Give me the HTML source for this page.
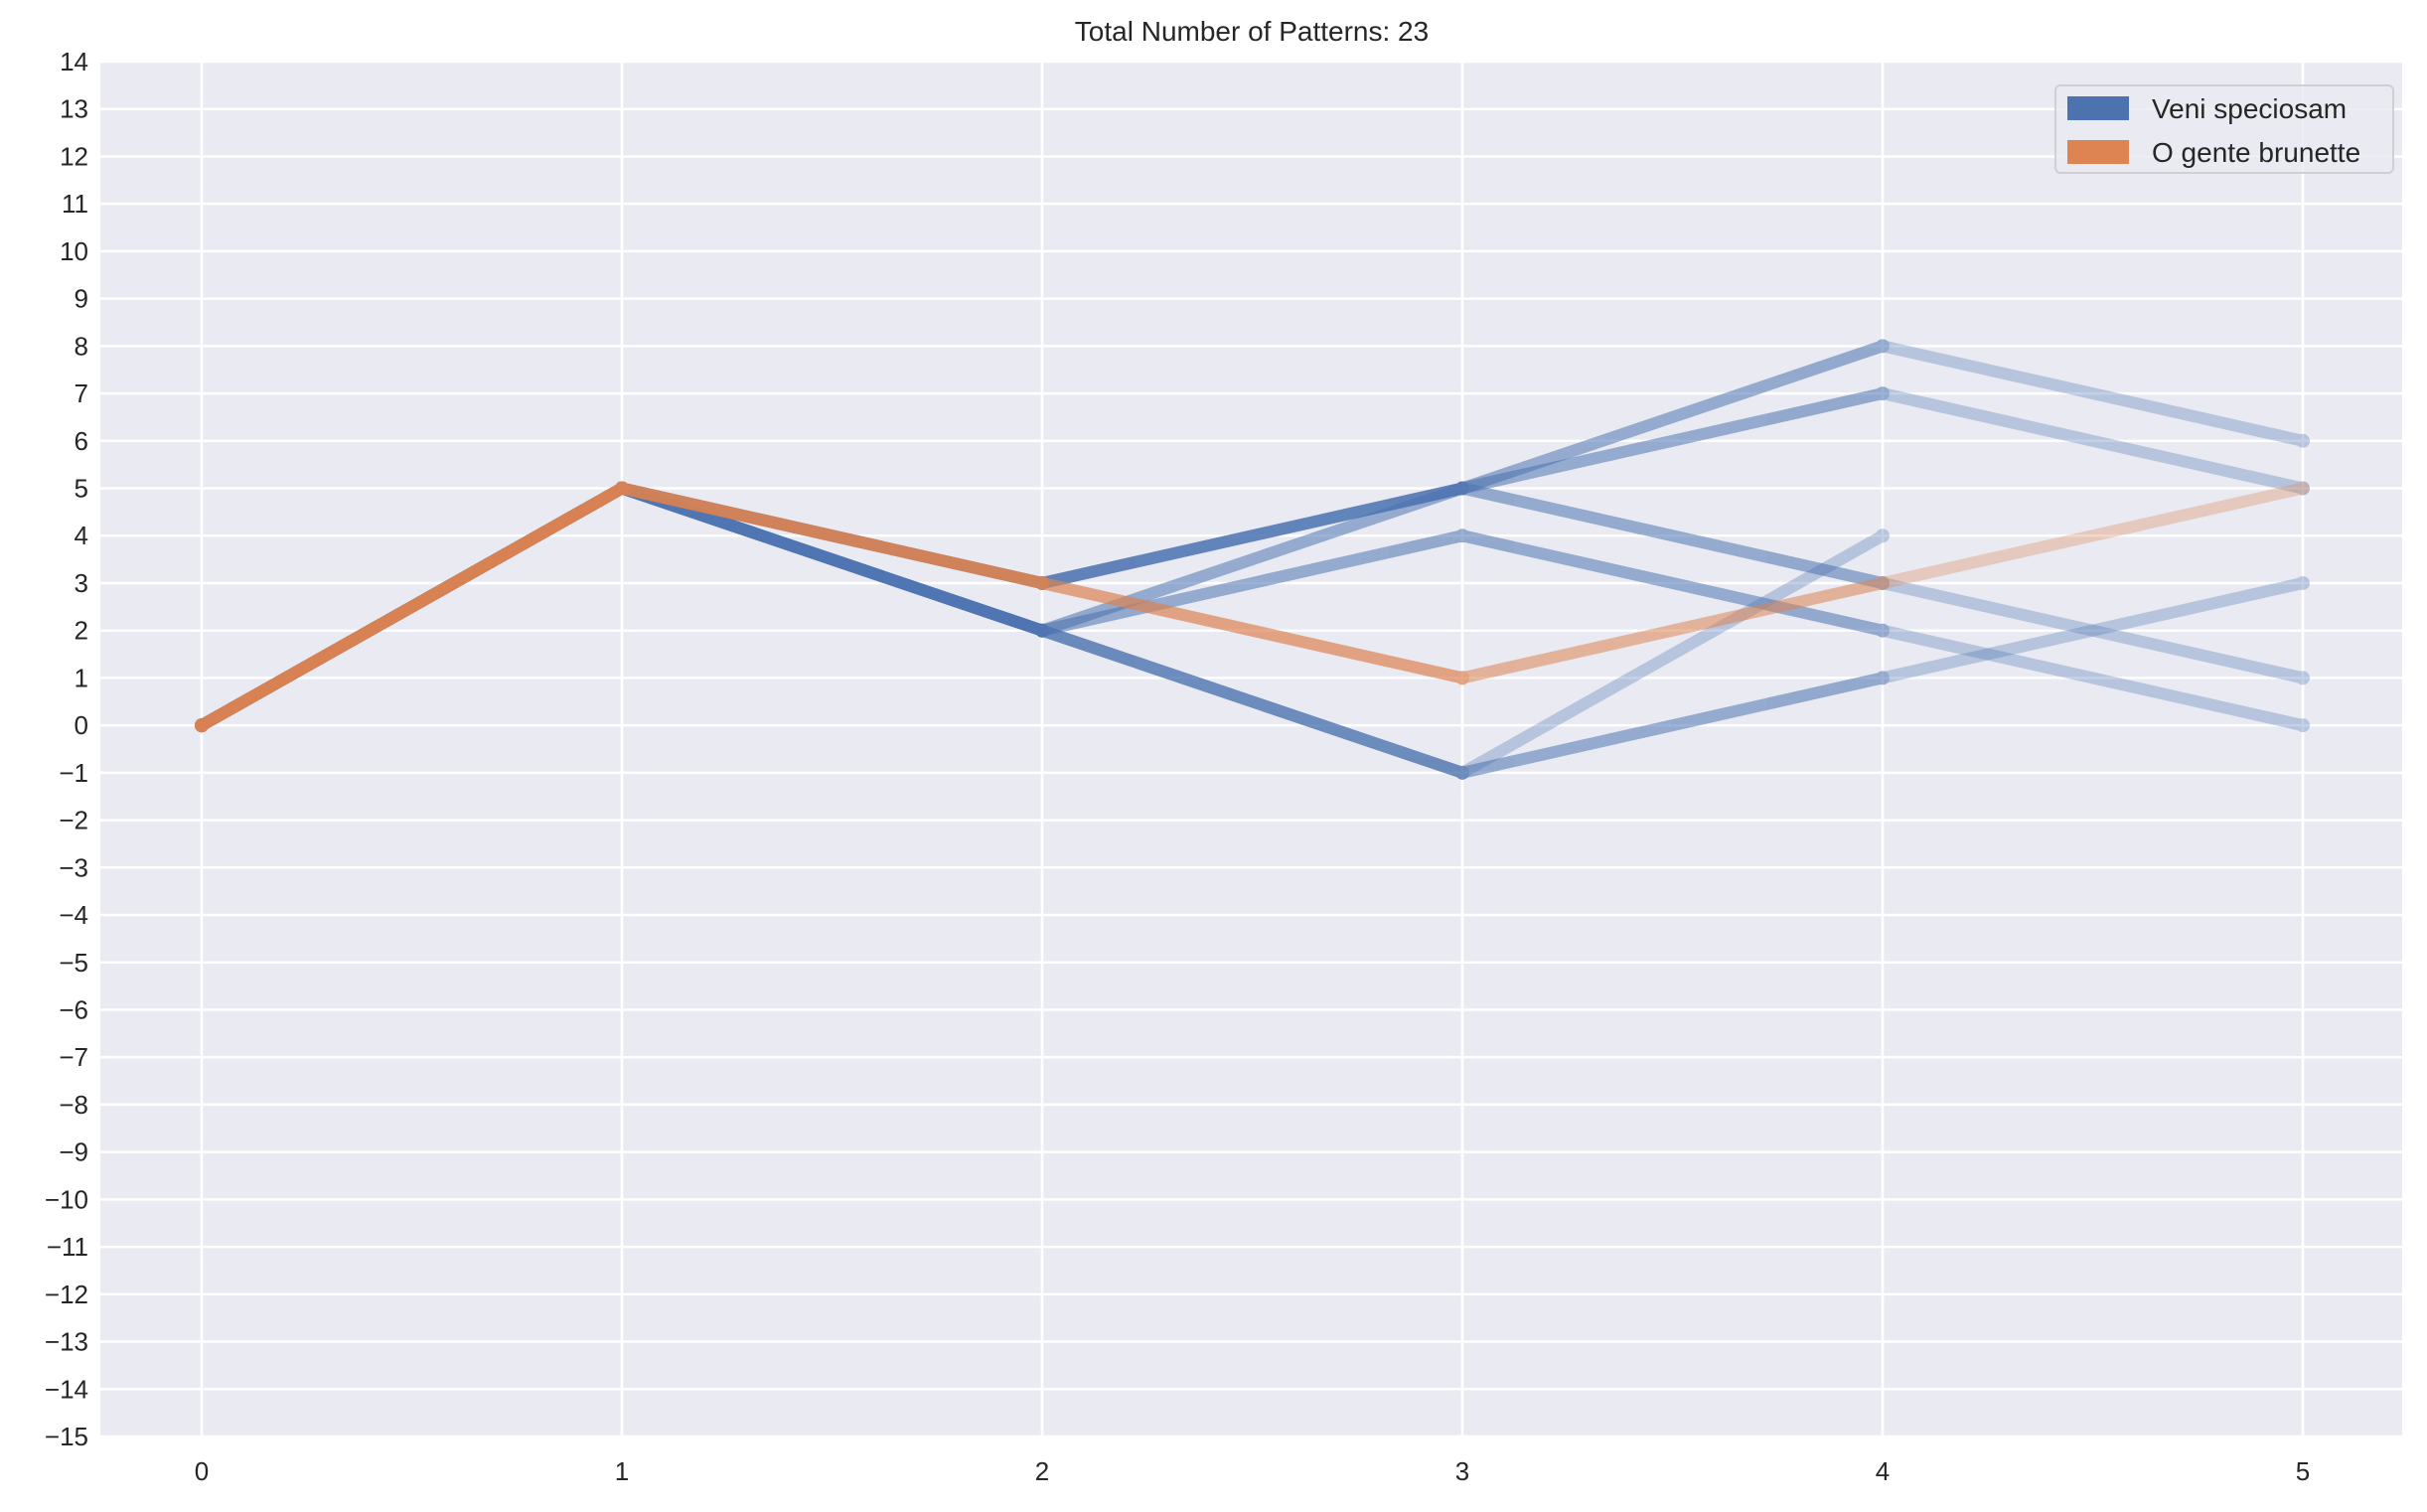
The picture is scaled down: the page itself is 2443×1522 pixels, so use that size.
<!DOCTYPE html>
<html><head><meta charset="utf-8"><style>
body{margin:0;background:#fff;}
svg{display:block;font-family:"Liberation Sans",sans-serif;}
</style></head><body>
<svg id="chart" width="2443" height="1522">
<rect x="101" y="62" width="2317" height="1384" fill="#eaeaf2"/>
<g id="grid"></g><g id="ticks"></g><g id="series"></g>
<text x="1260" y="41" text-anchor="middle" font-size="28" fill="#262626">Total Number of Patterns: 23</text>
<g>
<rect x="2069" y="86" width="340" height="88" rx="5" fill="#eaeaf2" fill-opacity="0.8" stroke="#cfcfd4" stroke-width="2"/>
<rect x="2081" y="97" width="62" height="24" fill="#4c72b0"/>
<text x="2166" y="119" font-size="28" fill="#262626">Veni speciosam</text>
<rect x="2081" y="141" width="62" height="24" fill="#dd8452"/>
<text x="2166" y="163" font-size="28" fill="#262626">O gente brunette</text>
</g>
</svg>
<script>
const xTicks=[0,1,2,3,4,5];
const yTicks=[14,13,12,11,10,9,8,7,6,5,4,3,2,1,0,-1,-2,-3,-4,-5,-6,-7,-8,-9,-10,-11,-12,-13,-14,-15];
const veniPatterns=[[0,5,3,5,8,6],[0,5,3,5,8],[0,5,3,5,3,1],[0,5,3,5,3],[0,5,3,5],[0,5,2,5,7,5],[0,5,2,5,7],[0,5,2,4,2,0],[0,5,2,4,2],[0,5,2,-1,1,3],[0,5,2,-1,1],[0,5,2,-1,4],[0,5,2,-1],[0,5,2]];
const gentePatterns=[[0,5,3,1,3,5],[0,5,3,1,3],[0,5,3,1],[0,5,3],[0,5,3],[0,5,3],[0,5],[0,5],[0,5]];
const X0=203,DX=423,YTOP=62,YB=1446,YMAX=14,YMIN=-15;
function xs(i){return X0+i*DX;}
function ys(v){return YTOP+(YMAX-v)*(YB-YTOP)/(YMAX-YMIN);}
const NS="http://www.w3.org/2000/svg";
const grid=document.getElementById('grid'),ticks=document.getElementById('ticks'),ser=document.getElementById('series');
function mk(t,a,p){const e=document.createElementNS(NS,t);for(const k in a)e.setAttribute(k,a[k]);p.appendChild(e);return e;}
xTicks.forEach(v=>{
 const l=mk('line',{x1:xs(v),x2:xs(v),y1:YTOP,y2:YB,stroke:'#fff','stroke-width':2.5},grid);
 
 
 const t=mk('text',{x:xs(v),y:YB+44,'text-anchor':'middle','font-size':26,fill:'#262626'},ticks);
 t.textContent=v;
 
 
});
yTicks.forEach(v=>{
 const l=mk('line',{x1:101,x2:2418,y1:ys(v),y2:ys(v),stroke:'#fff','stroke-width':2.5},grid);
 
 
 const t=mk('text',{x:89,y:ys(v)+9,'text-anchor':'end','font-size':26,fill:'#262626'},ticks);
 t.textContent=String(v).replace('-','\u2212');
 
 
});
function draw(pats,color,name){
 pats.forEach(p=>{
  const g=mk('g',{opacity:0.32},ser);
  
  
  mk('polyline',{points:p.map((v,i)=>xs(i)+','+ys(v)).join(' '),fill:'none',stroke:color,'stroke-width':12,'stroke-linejoin':'round','stroke-linecap':'round'},g);
  p.forEach((v,i)=>mk('circle',{cx:xs(i),cy:ys(v),r:7,fill:color},g));
 });
}
draw(veniPatterns,'#4c72b0','veni-pattern-line');
draw(gentePatterns,'#dd8452','gente-pattern-line');
</script>
</body></html>
